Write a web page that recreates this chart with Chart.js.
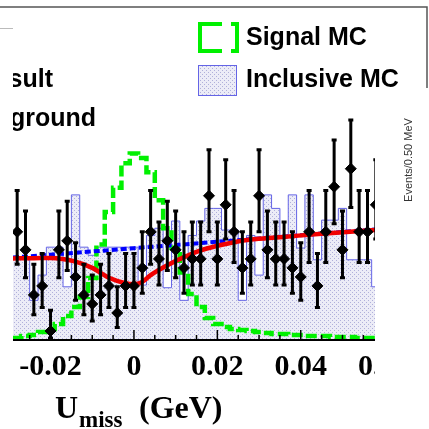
<!DOCTYPE html>
<html>
<head>
<meta charset="utf-8">
<script src="https://cdn.jsdelivr.net/npm/chart.js@4.4.1/dist/chart.umd.min.js"></script>
<style>
  html, body { margin: 0; padding: 0; background: #fff; }
  #plot { display: block; }
</style>
</head>
<body>
<canvas id="plot" width="429" height="429"></canvas>
<script>
// U_miss bin centres (GeV), 2 MeV bins
const binCentres = [
  -0.028, -0.026, -0.024, -0.022, -0.020, -0.018, -0.016, -0.014, -0.012, -0.010,
  -0.008, -0.006, -0.004, -0.002, 0.000, 0.002, 0.004, 0.006, 0.008, 0.010,
  0.012, 0.014, 0.016, 0.018, 0.020, 0.022, 0.024, 0.026, 0.028, 0.030,
  0.032, 0.034, 0.036, 0.038, 0.040, 0.042, 0.044, 0.046, 0.048, 0.050,
  0.052, 0.054, 0.056, 0.058
];

// data (events per bin) with asymmetric errors
const dataCounts = [12, 10, 5, 6, 1, 10, 11, 7, 5, 4, 5, 6, 3, 6, 6, 8, 12, 9, 11, 10,
  8, 9, 9, 16, 9, 15, 12, 8, 9, 16, 10, 9, 9, 8, 7, 12, 6, 12, 17, 10, 19, 12, 12, 15];
const errLow = [3.6, 3.1, 2.2, 2.4, 0.8, 3.1, 3.3, 2.6, 2.2, 1.9, 2.2, 2.4, 1.6, 2.4, 2.4,
  2.8, 3.6, 2.9, 3.3, 3.1, 2.8, 2.9, 2.9, 4.0, 2.9, 3.8, 3.4, 2.8, 2.9, 4.0,
  3.1, 2.9, 2.9, 2.8, 2.6, 3.4, 2.4, 3.4, 4.1, 3.1, 4.3, 3.4, 3.4, 3.8];
const errHigh = [4.6, 4.3, 3.4, 3.6, 2.3, 4.3, 4.4, 3.8, 3.4, 3.2, 3.4, 3.6, 2.9, 3.6, 3.6,
  4.0, 4.6, 4.1, 4.4, 4.3, 4.0, 4.1, 4.1, 5.1, 4.1, 5.0, 4.6, 4.0, 4.1, 5.1,
  4.3, 4.1, 4.1, 4.0, 3.8, 4.6, 3.6, 4.6, 5.2, 4.3, 5.4, 4.6, 4.6, 5.0];

// inclusive MC histogram
const inclusiveMC = [9.1, 9.1, 4.4, 7.2, 10.3, 10.3, 5.9, 16.1, 10.3, 9.4,
  10.3, 10.3, 10.3, 10.3, 10.3, 6.1, 11.6, 12.4, 5.8, 13.2,
  4.4, 11.6, 13.2, 14.6, 14.6, 12.2, 12.2, 4.4, 11.6, 7.2,
  16.1, 14.6, 11.6, 16.1, 10.2, 16.1, 8.9, 13.3, 13.3, 14.6,
  8.9, 8.9, 8.9, 5.9];

// signal MC histogram
const signalMC = [0.22, 0.44, 0.55, 0.89, 1.22, 1.77, 2.66, 3.65, 4.76, 6.87,
  10.6, 14.2, 16.9, 19.6, 20.7, 20.2, 18.6, 15.5, 12.4, 10.2,
  7.5, 5.1, 3.65, 2.44, 1.77, 1.44, 1.22, 1.11, 1.0, 0.89,
  0.78, 0.66, 0.66, 0.55, 0.55, 0.44, 0.44, 0.44, 0.33, 0.33,
  0.33, 0.22, 0.22, 0.22];

// fit result curve and background component
const fitX = [-0.029, -0.024, -0.020, -0.014, -0.010, -0.006, -0.002, 0.000, 0.002, 0.004,
  0.008, 0.012, 0.016, 0.020, 0.024, 0.028, 0.035, 0.045, 0.0578];
const fitY = [9.05, 9.07, 9.1, 8.7, 8.0, 6.9, 6.3, 6.2, 6.45, 7.2,
  8.3, 9.2, 9.95, 10.45, 10.85, 11.15, 11.4, 11.8, 12.2];
const bkgX = [-0.029, -0.020, -0.010, 0.000, 0.010, 0.020, 0.030, 0.040, 0.050, 0.0578];
const bkgY = [9.15, 9.47, 9.82, 10.19, 10.54, 10.9, 11.26, 11.63, 11.98, 12.27];

// x axis
const xMajorTicks = [-0.02, 0, 0.02, 0.04, 0.06];
const xTickLabels = ['-0.02', '0', '0.02', '0.04', '0.06'];

const edges = binCentres.map(c => c - 0.001).concat([binCentres[binCentres.length - 1] + 0.001]);
function stepPoints(vals) {
  return edges.map((e, i) => ({ x: e, y: vals[Math.min(i, vals.length - 1)] }));
}

function dotPattern() {
  const c = document.createElement('canvas');
  c.width = 4; c.height = 4;
  const g = c.getContext('2d');
  g.fillStyle = '#ececf7';
  g.fillRect(0, 0, 4, 4);
  g.fillStyle = '#b0b0da';
  g.fillRect(0, 0, 1, 1);
  g.fillRect(2, 2, 1, 1);
  return g.createPattern(c, 'repeat');
}
const mcFill = dotPattern();

const overlay = {
  id: 'overlay',
  afterDatasetsDraw(chart) {
    const { ctx, chartArea: a, scales: { x, y } } = chart;
    ctx.save();
    ctx.beginPath();
    ctx.rect(a.left, a.top, a.right - a.left, a.bottom - a.top);
    ctx.clip();
    ctx.strokeStyle = '#000';
    ctx.lineWidth = 3;
    binCentres.forEach((c, i) => {
      const px = x.getPixelForValue(c);
      const yTop = y.getPixelForValue(dataCounts[i] + errHigh[i]);
      const yBot = y.getPixelForValue(dataCounts[i] - errLow[i]);
      ctx.beginPath();
      ctx.moveTo(px, yTop); ctx.lineTo(px, yBot);
      ctx.moveTo(px - 2.5, yTop); ctx.lineTo(px + 2.5, yTop);
      ctx.moveTo(px - 2.5, yBot); ctx.lineTo(px + 2.5, yBot);
      ctx.stroke();
    });
    ctx.restore();
  },
  afterDraw(chart) {
    const { ctx, chartArea: a, scales: { x } } = chart;
    ctx.save();

    // axis line and ticks
    ctx.strokeStyle = '#000';
    ctx.lineWidth = 2;
    ctx.beginPath();
    ctx.moveTo(a.left, a.bottom); ctx.lineTo(a.right, a.bottom);
    ctx.stroke();
    ctx.lineWidth = 1.5;
    for (let i = -6; i <= 12; i++) {
      const v = i * 0.005;
      const px = x.getPixelForValue(v);
      if (px < a.left || px > a.right) continue;
      const len = i % 4 === 0 ? 10 : 5;
      ctx.beginPath();
      ctx.moveTo(px, a.bottom); ctx.lineTo(px, a.bottom - len);
      ctx.stroke();
    }

    // tick labels, cut at the right edge of the frame
    ctx.save();
    ctx.beginPath();
    ctx.rect(0, a.bottom, a.right, 60);
    ctx.clip();
    ctx.fillStyle = '#000';
    ctx.font = 'bold 30px "Liberation Serif", "DejaVu Serif", serif';
    ctx.textAlign = 'center';
    ctx.textBaseline = 'alphabetic';
    xMajorTicks.forEach((v, i) => {
      ctx.fillText(xTickLabels[i], x.getPixelForValue(v), a.bottom + 35);
    });
    ctx.restore();

    // axis title
    ctx.fillStyle = '#000';
    ctx.textAlign = 'left';
    ctx.font = 'bold 32px "Liberation Serif", serif';
    ctx.fillText('U', 55, 418);
    ctx.font = 'bold 23px "Liberation Serif", serif';
    ctx.fillText('miss', 79, 427);
    ctx.font = 'bold 32px "Liberation Serif", serif';
    ctx.fillText('(GeV)', 139, 418);

    // frame pieces of the surrounding panels
    ctx.strokeStyle = '#555';
    ctx.lineWidth = 1.5;
    ctx.beginPath();
    ctx.moveTo(0, 7); ctx.lineTo(427, 7); ctx.lineTo(427, 88);
    ctx.stroke();
    ctx.strokeStyle = '#bbb';
    ctx.lineWidth = 1;
    ctx.beginPath();
    ctx.moveTo(0, 28.5); ctx.lineTo(13, 28.5);
    ctx.stroke();

    // left legend text (cut by the panel edge)
    ctx.save();
    ctx.beginPath();
    ctx.rect(13, 0, 200, 200);
    ctx.clip();
    ctx.font = 'bold 25px "Liberation Sans", Arial, sans-serif';
    ctx.textAlign = 'right';
    ctx.fillStyle = '#000';
    ctx.fillText('Fit result', 53, 87);
    ctx.fillText('Background', 96, 126);
    ctx.restore();

    // right legend
    ctx.strokeStyle = 'rgb(0,240,0)';
    ctx.lineWidth = 4;
    ctx.beginPath();
    ctx.moveTo(222, 24); ctx.lineTo(200, 24); ctx.lineTo(200, 51); ctx.lineTo(222, 51);
    ctx.moveTo(231, 24); ctx.lineTo(237, 24); ctx.lineTo(237, 51); ctx.lineTo(231, 51);
    ctx.stroke();

    ctx.fillStyle = mcFill;
    ctx.fillRect(198, 65, 39, 31);
    ctx.strokeStyle = 'rgb(100,100,230)';
    ctx.lineWidth = 1;
    ctx.strokeRect(198.5, 65.5, 38, 30);

    ctx.fillStyle = '#000';
    ctx.textAlign = 'left';
    ctx.font = 'bold 25px "Liberation Sans", Arial, sans-serif';
    ctx.fillText('Signal MC', 246, 45);
    ctx.save();
    ctx.beginPath();
    ctx.rect(240, 0, 189, 88);
    ctx.clip();
    ctx.fillText('Inclusive MC', 246, 87);
    ctx.restore();

    // y axis title of the neighbouring panel
    ctx.save();
    ctx.translate(409, 160);
    ctx.rotate(-Math.PI / 2);
    ctx.font = '11px "Liberation Sans", Arial, sans-serif';
    ctx.fillStyle = '#333';
    ctx.textAlign = 'center';
    ctx.textBaseline = 'middle';
    ctx.fillText('Events/0.50 MeV', 0, 0);
    ctx.restore();

    ctx.restore();
  }
};

new Chart(document.getElementById('plot'), {
  type: 'line',
  data: {
    datasets: [
      {
        label: 'Data',
        data: binCentres.map((c, i) => ({ x: c, y: dataCounts[i] })),
        showLine: false,
        pointStyle: 'rectRot',
        pointRadius: 5.5,
        backgroundColor: '#000',
        borderColor: '#000',
        borderWidth: 1,
        order: 0,
        clip: 0
      },
      {
        label: 'Fit result',
        data: fitX.map((v, i) => ({ x: v, y: fitY[i] })),
        borderColor: 'rgb(240,0,0)',
        borderWidth: 4.5,
        pointRadius: 0,
        cubicInterpolationMode: 'monotone',
        order: 1,
        clip: 0
      },
      {
        label: 'Background',
        data: bkgX.map((v, i) => ({ x: v, y: bkgY[i] })),
        borderColor: 'rgb(0,0,255)',
        borderWidth: 4,
        borderDash: [6, 3],
        pointRadius: 0,
        order: 2,
        clip: 0
      },
      {
        label: 'Signal MC',
        data: stepPoints(signalMC),
        stepped: 'before',
        borderColor: 'rgb(0,240,0)',
        borderWidth: 4.5,
        borderDash: [11, 4],
        pointRadius: 0,
        order: 3,
        clip: 0
      },
      {
        label: 'Inclusive MC',
        data: stepPoints(inclusiveMC),
        stepped: 'before',
        fill: 'origin',
        backgroundColor: mcFill,
        borderColor: 'rgb(100,100,230)',
        borderWidth: 1,
        pointRadius: 0,
        order: 4,
        clip: 0
      }
    ]
  },
  options: {
    responsive: false,
    devicePixelRatio: 1,
    animation: false,
    layout: { padding: { left: 13, right: 54, top: 6, bottom: 89 } },
    scales: {
      x: { type: 'linear', min: -0.029, max: 0.0578, display: false },
      y: { min: 0, max: 37, display: false }
    },
    plugins: {
      legend: { display: false },
      tooltip: { enabled: false }
    }
  },
  plugins: [overlay]
});
</script>
</body>
</html>
